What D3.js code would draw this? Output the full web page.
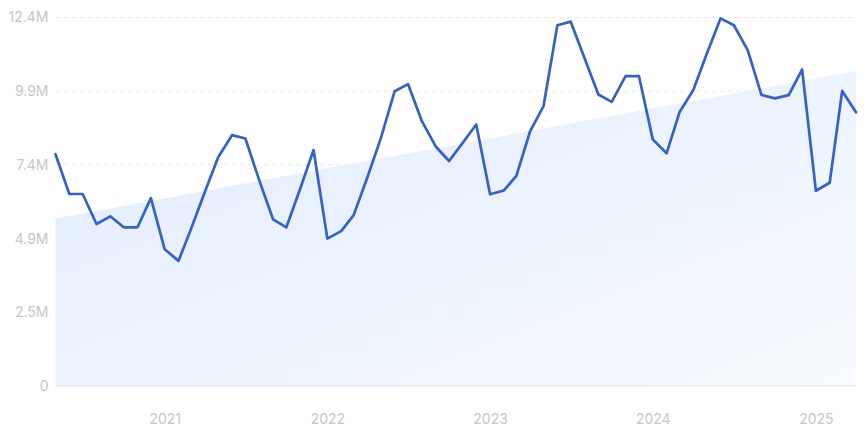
<!DOCTYPE html>
<html><head><meta charset="utf-8">
<script src="https://cdn.jsdelivr.net/npm/d3@7"></script>
<style>
html,body{margin:0;padding:0;background:#fff;}
svg{display:block;font-family:Inter,"Noto Sans",sans-serif;}
</style></head>
<body><svg id="chart" width="866" height="433"></svg>
<script>
const startMonth = "2020-05";
const values = [7.80,6.46,6.46,5.45,5.71,5.34,5.34,6.32,4.60,4.21,5.28,6.53,
  7.70,8.44,8.33,6.93,5.61,5.34,6.64,7.94,4.96,5.21,5.75,7.03,
  8.34,9.92,10.16,8.91,8.06,7.57,8.19,8.80,6.45,6.58,7.07,8.58,
  9.42,12.14,12.26,11.03,9.81,9.56,10.43,10.43,8.30,7.83,9.21,9.96,
  11.17,12.37,12.14,11.30,9.79,9.68,9.79,10.65,6.57,6.84,9.93,9.21];
const trendValues = [5.64, 10.60];
const yTicks = [0, 2.48, 4.96, 7.44, 9.92, 12.4];
const yTickLabels = ["0","2.5M","4.9M","7.4M","9.9M","12.4M"];
const xTickYears = ["2021","2022","2023","2024","2025"];

const parse = d3.timeParse("%Y-%m");
const start = parse(startMonth);
const dates = values.map((v,i)=>d3.timeMonth.offset(start,i));
const data = values.map((v,i)=>({date:dates[i], value:v}));

const svg = d3.select("#chart");
const m = {left:55.5, right:10, top:17.5, bottom:47};
const W = 866, H = 433;
const x = d3.scaleTime().domain([dates[0], dates[dates.length-1]]).range([m.left, W-m.right]);
const y = d3.scaleLinear().domain([0, 12.4]).range([H-m.bottom, m.top]);

const defs = svg.append("defs");
const g = defs.append("linearGradient").attr("id","trendGrad")
  .attr("x1","0%").attr("y1","0%").attr("x2","100%").attr("y2","100%");
g.append("stop").attr("offset","0%").attr("stop-color","#e0ebfb");
g.append("stop").attr("offset","100%").attr("stop-color","#f8fbff");

// grid
svg.append("g").selectAll("line").data(yTicks.slice(1)).join("line")
  .attr("x1", m.left).attr("x2", W-m.right)
  .attr("y1", d=>y(d)).attr("y2", d=>y(d))
  .attr("stroke","#e3e5ea").attr("stroke-width",1).attr("stroke-dasharray","4,4");

// trend area
const trendData = [{date:dates[0], value:trendValues[0]},{date:dates[dates.length-1], value:trendValues[1]}];
svg.append("path").datum(trendData)
  .attr("fill","url(#trendGrad)")
  .attr("d", d3.area().x(d=>x(d.date)).y0(y(0)).y1(d=>y(d.value)));

// baseline
svg.append("line").attr("x1",m.left).attr("x2",W-m.right)
  .attr("y1",y(0)).attr("y2",y(0)).attr("stroke","#dde4ef").attr("stroke-width",1);

// y labels
const yAxis = d3.axisLeft(y).tickValues(yTicks).tickFormat((d,i)=>yTickLabels[i]).tickSize(0).tickPadding(7);
const ya = svg.append("g").attr("transform",`translate(${m.left},0)`).call(yAxis);
ya.select(".domain").remove();
ya.selectAll("text").attr("fill","#c4c6cc").style("font-size","14px").style("font-family","Inter,'Noto Sans',sans-serif");

// x labels
const xAxis = d3.axisBottom(x).tickValues(xTickYears.map(s=>d3.timeParse("%Y")(s))).tickFormat(d3.timeFormat("%Y")).tickSize(0).tickPadding(28);
const xa = svg.append("g").attr("transform",`translate(0,${y(0)})`).call(xAxis);
xa.select(".domain").remove();
xa.selectAll("text").attr("fill","#c4c6cc").style("font-size","14px").style("font-family","Inter,'Noto Sans',sans-serif");

// line
svg.append("path").datum(data)
  .attr("fill","none").attr("stroke","#3462c9").attr("stroke-width",2.7)
  .attr("stroke-linejoin","round").attr("stroke-linecap","round")
  .attr("d", d3.line().x(d=>x(d.date)).y(d=>y(d.value)));
</script></body></html>
